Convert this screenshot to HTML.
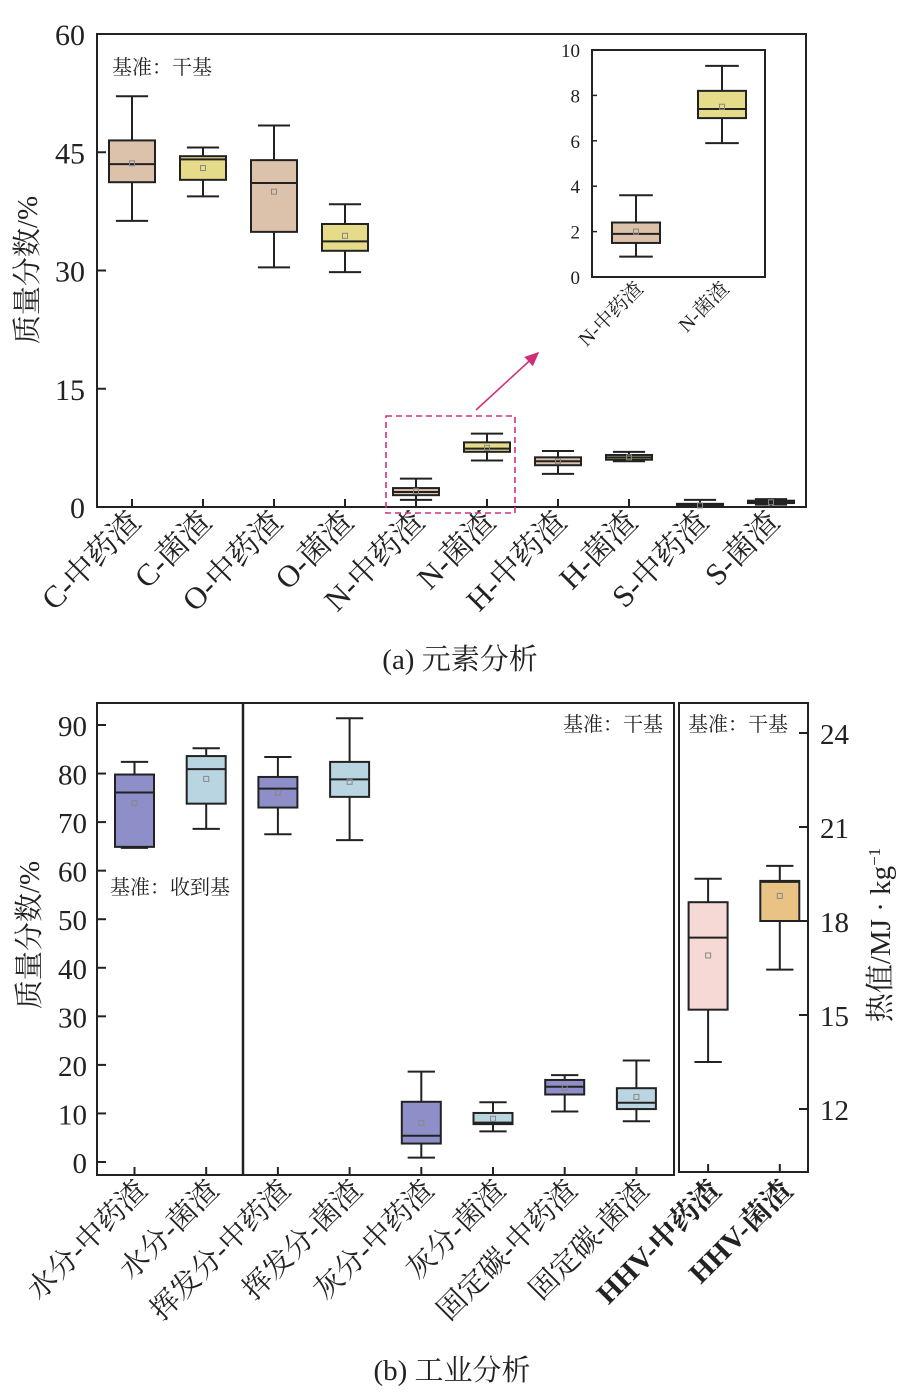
<!DOCTYPE html>
<html><head><meta charset="utf-8">
<style>
html,body{margin:0;padding:0;background:#fff;}
svg{display:block;font-family:"Liberation Serif","Noto Serif CJK SC",serif;}
</style></head>
<body>
<svg id="chart" width="907" height="1395" viewBox="0 0 907 1395" xmlns="http://www.w3.org/2000/svg">
<defs><marker id="ah" markerWidth="10" markerHeight="10" refX="8" refY="4" orient="auto"><path d="M0,0 L9,4 L0,8 Z" fill="#d0307a"/></marker></defs>
</svg>
<script>
// ---- Panel (a) data ----
const catsA = ["C-中药渣","C-菌渣","O-中药渣","O-菌渣","N-中药渣","N-菌渣","H-中药渣","H-菌渣","S-中药渣","S-菌渣"];
const whiskHiA = [52.1,45.6,48.4,38.4,3.6,9.3,7.1,7.0,0.9,1.0];
const q3A      = [46.5,44.5,44.0,35.9,2.4,8.2,6.3,6.6,0.4,0.8];
const medA     = [43.5,44.1,41.1,33.7,1.9,7.4,5.8,6.3,0.2,0.7];
const q1A      = [41.2,41.5,34.9,32.5,1.5,7.0,5.3,6.0,0.1,0.5];
const whiskLoA = [36.3,39.4,30.4,29.8,0.9,5.9,4.2,5.8,0.0,0.3];
const meanA    = [43.6,43.0,40.0,34.4,2.0,7.5,5.8,6.3,0.2,0.6];
const ticksA = [0,15,30,45,60];
const insetIdx = [4,5];
const insetTicks = [0,2,4,6,8,10];
// ---- Panel (b) data ----
const catsB = ["水分-中药渣","水分-菌渣","挥发分-中药渣","挥发分-菌渣","灰分-中药渣","灰分-菌渣","固定碳-中药渣","固定碳-菌渣","HHV-中药渣","HHV-菌渣"];
const whiskHiB = [82.4,85.2,83.4,91.4,18.6,12.3,17.9,20.9,19.35,19.76];
const q3B      = [79.8,83.6,79.3,82.4,12.4,10.1,16.9,15.2,18.6,19.28];
const medB     = [76.1,80.9,76.9,78.8,5.4,8.1,15.5,12.2,17.47,19.25];
const q1B      = [64.9,73.8,73.0,75.2,3.8,7.8,13.9,10.9,15.17,18.0];
const whiskLoB = [64.7,68.6,67.5,66.3,0.9,6.3,10.4,8.4,13.5,16.45];
const meanB    = [73.9,78.9,76.1,78.3,8.0,8.9,15.3,13.4,16.9,18.8];
const ticksB = [0,10,20,30,40,50,60,70,80,90];
const ticksBR = [12,15,18,21,24];

const svg = document.getElementById('chart');
const NS = "http://www.w3.org/2000/svg";
function mk(tag, attrs, parent, text){
  const e = document.createElementNS(NS, tag);
  for (const k in attrs) e.setAttribute(k, attrs[k]);
  if (text !== undefined) e.textContent = text;
  (parent||svg).appendChild(e);
  return e;
}
const colA = i => (i%2===0) ? "#dcc2ab" : "#e5db88";
const colB = ["#8e8ec9","#b9d5e1","#8e8ec9","#b9d5e1","#8e8ec9","#b9d5e1","#8e8ec9","#b9d5e1","#f6d9d4","#e9c286"];

function drawBox(g, x, w, yf, d, fill, name){
  const grp = mk('g', {}, g);
  
  
  const cap = w*0.5;
  mk('line', {x1:x, x2:x, y1:yf(d.hi), y2:yf(d.q3), stroke:"#222", "stroke-width":2}, grp);
  mk('line', {x1:x, x2:x, y1:yf(d.q1), y2:yf(d.lo), stroke:"#222", "stroke-width":2}, grp);
  mk('line', {x1:x-cap/2*1.4, x2:x+cap/2*1.4, y1:yf(d.hi), y2:yf(d.hi), stroke:"#222", "stroke-width":2}, grp);
  mk('line', {x1:x-cap/2*1.4, x2:x+cap/2*1.4, y1:yf(d.lo), y2:yf(d.lo), stroke:"#222", "stroke-width":2}, grp);
  mk('rect', {x:x-w/2, y:yf(d.q3), width:w, height:Math.max(1,yf(d.q1)-yf(d.q3)), fill:fill, stroke:"#222", "stroke-width":2}, grp);
  mk('line', {x1:x-w/2, x2:x+w/2, y1:yf(d.med), y2:yf(d.med), stroke:"#222", "stroke-width":2}, grp);
  mk('rect', {x:x-2.5, y:yf(d.mean)-2.5, width:5, height:5, fill:"none", stroke:"#888", "stroke-width":1}, grp);
}

// ================= Panel A =================
const gA = mk('g', {});


const A = {l:97, r:806, t:34, b:507};
const yA = v => A.b - (v/60)*(A.b-A.t);
const xA = i => 132 + i*71;
mk('rect', {x:A.l, y:A.t, width:A.r-A.l, height:A.b-A.t, fill:"none", stroke:"#222", "stroke-width":2}, gA);
ticksA.forEach(t => {
  mk('line', {x1:A.l, x2:A.l+9, y1:yA(t), y2:yA(t), stroke:"#222", "stroke-width":2}, gA);
  const tl = mk('text', {x:85, y:yA(t)+11, "text-anchor":"end", "font-size":30, fill:"#222"}, gA, String(t));
  
  
});
catsA.forEach((c,i) => {
  const x = xA(i);
  mk('line', {x1:x, x2:x, y1:A.b, y2:A.b-8, stroke:"#222", "stroke-width":2}, gA);
  drawBox(gA, x, 46, yA, {hi:whiskHiA[i],q3:q3A[i],med:medA[i],q1:q1A[i],lo:whiskLoA[i],mean:meanA[i]}, colA(i), 'box-'+c);
  const t = mk('text', {x:x+10, y:524, "text-anchor":"end", "font-size":31, fill:"#222", transform:`rotate(-45 ${x+10} 524)`}, gA, c);
  
  
});
const tA = mk('text', {x:0, y:0, "text-anchor":"middle", "font-size":29, fill:"#222", transform:"translate(37 270) rotate(-90)"}, gA, "质量分数/%");


const bA = mk('text', {x:112, y:74, "font-size":20, fill:"#222"}, gA, "基准：干基");


const dr = mk('rect', {x:386, y:416, width:129, height:97, fill:"none", stroke:"#d0307a", "stroke-width":1.6, "stroke-dasharray":"6,4"}, gA);


const ar = mk('line', {x1:476, y1:410, x2:538, y2:353, stroke:"#d0307a", "stroke-width":1.6, "marker-end":"url(#ah)"}, gA);


// inset
const gI = mk('g', {}, gA);


const I = {l:592, r:765, t:50, b:277};
const yI = v => I.b - (v/10)*(I.b-I.t);
mk('rect', {x:I.l, y:I.t, width:I.r-I.l, height:I.b-I.t, fill:"#fff", stroke:"#222", "stroke-width":2}, gI);
insetTicks.forEach(t => {
  mk('line', {x1:I.l, x2:I.l+5, y1:yI(t), y2:yI(t), stroke:"#222", "stroke-width":1.5}, gI);
  const tl = mk('text', {x:580, y:yI(t)+7, "text-anchor":"end", "font-size":19, fill:"#222"}, gI, String(t));
  
  
});
insetIdx.forEach((idx,j) => {
  const x = 636 + j*86;
  drawBox(gI, x, 48, yI, {hi:whiskHiA[idx],q3:q3A[idx],med:medA[idx],q1:q1A[idx],lo:whiskLoA[idx],mean:meanA[idx]}, colA(idx), 'inset-box-'+catsA[idx]);
  const t = mk('text', {x:x+8, y:290, "text-anchor":"end", "font-size":20, fill:"#222", transform:`rotate(-45 ${x+8} 290)`}, gI, catsA[idx]);
  
  
});
const capA = mk('text', {x:460, y:669, "text-anchor":"middle", "font-size":29, fill:"#222"}, svg, "(a) 元素分析");



// ================= Panel B =================
const gB = mk('g', {});


const yB = v => 1162 - (v/90)*(1162-725);
const yBR = v => 733 + (24-v)*(1109-733)/12;
const xB = i => 134.5 + i*71.7;
mk('rect', {x:97, y:703, width:577, height:472, fill:"none", stroke:"#222", "stroke-width":2}, gB);
mk('line', {x1:243, x2:243, y1:703, y2:1175, stroke:"#222", "stroke-width":2.5}, gB);
mk('rect', {x:679, y:703, width:129, height:469, fill:"none", stroke:"#222", "stroke-width":2}, gB);
ticksB.forEach(t => {
  mk('line', {x1:97, x2:106, y1:yB(t), y2:yB(t), stroke:"#222", "stroke-width":2}, gB);
  const tl = mk('text', {x:87, y:yB(t)+11, "text-anchor":"end", "font-size":29, fill:"#222"}, gB, String(t));
  
  
});
ticksBR.forEach(t => {
  mk('line', {x1:808, x2:799, y1:yBR(t), y2:yBR(t), stroke:"#222", "stroke-width":2}, gB);
  const tl = mk('text', {x:820, y:yBR(t)+11, "font-size":29, fill:"#222"}, gB, String(t));
  
  
});
catsB.forEach((c,i) => {
  const x = xB(i);
  const yf = i>=8 ? yBR : yB;
  const base = i>=8 ? 1172 : 1175;
  mk('line', {x1:x, x2:x, y1:base, y2:base-8, stroke:"#222", "stroke-width":2}, gB);
  drawBox(gB, x, 39, yf, {hi:whiskHiB[i],q3:q3B[i],med:medB[i],q1:q1B[i],lo:whiskLoB[i],mean:meanB[i]}, colB[i], 'box-'+c);
  const t = mk('text', {x:x+14, y:1192, "text-anchor":"end", "font-size":29, fill:"#222", "font-weight": i>=8?"bold":"normal", transform:`rotate(-45 ${x+14} 1192)`}, gB, c);
  
  
});
const tB = mk('text', {x:0, y:0, "text-anchor":"middle", "font-size":29, fill:"#222", transform:"translate(39 935) rotate(-90)"}, gB, "质量分数/%");


const tBR = mk('text', {x:0, y:0, "text-anchor":"middle", "font-size":29, fill:"#222", transform:"translate(890 935) rotate(-90)"}, gB);


mk('tspan', {}, tBR, "热值/MJ · kg");
mk('tspan', {dy:-10, "font-size":17}, tBR, "−1");
const n1 = mk('text', {x:563, y:731, "font-size":20, fill:"#222"}, gB, "基准：干基");


const n2 = mk('text', {x:688, y:731, "font-size":20, fill:"#222"}, gB, "基准：干基");


const n3 = mk('text', {x:110, y:894, "font-size":20, fill:"#222"}, gB, "基准：收到基");


const capB = mk('text', {x:452, y:1380, "text-anchor":"middle", "font-size":29, fill:"#222"}, svg, "(b) 工业分析");


</script>
</body></html>
